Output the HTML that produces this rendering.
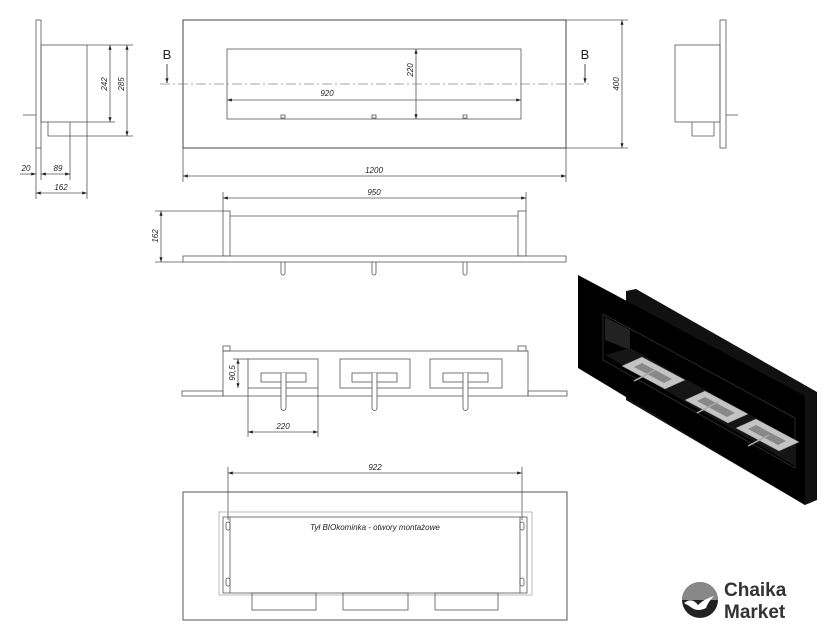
<!DOCTYPE html>
<html><head><meta charset="utf-8"><style>
html,body{margin:0;padding:0;background:#fff}
svg{display:block}
text{font-family:"Liberation Sans",sans-serif;fill:#222}
.d{font-size:8px;font-style:italic}
</style></head><body>
<svg width="838" height="640" viewBox="0 0 838 640" xmlns="http://www.w3.org/2000/svg">
<defs><marker id="a" viewBox="0 0 6 4" refX="6" refY="2" markerWidth="6" markerHeight="4" orient="auto-start-reverse"><path d="M0,0L6,2L0,4z" fill="#222"/></marker></defs>
<g fill="none" stroke="#555" stroke-width="0.8">
<rect x="183" y="20" width="383" height="128" stroke-width="1.1"/>
<rect x="227" y="49" width="294" height="70"/>
<line x1="160" y1="84" x2="592" y2="84" stroke="#888" stroke-dasharray="10,3,2,3"/>
<line x1="227" y1="100" x2="521" y2="100" marker-start="url(#a)" marker-end="url(#a)"/>
<line x1="416" y1="49" x2="416" y2="119" marker-start="url(#a)" marker-end="url(#a)"/>
<rect x="281" y="115" width="4" height="3"/><rect x="372" y="115" width="4" height="3"/><rect x="463" y="115" width="4" height="3"/>
<line x1="183" y1="148" x2="183" y2="182"/><line x1="566" y1="148" x2="566" y2="182"/>
<line x1="183" y1="176" x2="566" y2="176" marker-start="url(#a)" marker-end="url(#a)"/>
<line x1="566" y1="20" x2="628" y2="20"/><line x1="566" y1="148" x2="628" y2="148"/>
<line x1="622" y1="20" x2="622" y2="148" marker-start="url(#a)" marker-end="url(#a)"/>
<line x1="167" y1="64" x2="167" y2="83" stroke="#222" marker-end="url(#a)"/>
<line x1="585" y1="64" x2="585" y2="83" stroke="#222" marker-end="url(#a)"/>
<rect x="36" y="20" width="5" height="128"/>
<rect x="41" y="45" width="46" height="77"/>
<polyline points="48,122 48,136 70,136 70,122"/>
<line x1="23" y1="115" x2="36" y2="115"/>
<line x1="87" y1="45" x2="133" y2="45"/><line x1="87" y1="122" x2="115" y2="122"/><line x1="70" y1="136" x2="133" y2="136"/>
<line x1="110" y1="45" x2="110" y2="122" marker-start="url(#a)" marker-end="url(#a)"/>
<line x1="127" y1="45" x2="127" y2="136" marker-start="url(#a)" marker-end="url(#a)"/>
<line x1="36" y1="148" x2="36" y2="199"/><line x1="41" y1="148" x2="41" y2="180"/><line x1="70" y1="136" x2="70" y2="180"/><line x1="87" y1="122" x2="87" y2="199"/>
<line x1="20" y1="174" x2="36" y2="174" marker-end="url(#a)"/>
<line x1="41" y1="174" x2="70" y2="174" marker-start="url(#a)" marker-end="url(#a)"/>
<line x1="36" y1="193" x2="87" y2="193" marker-start="url(#a)" marker-end="url(#a)"/>
<rect x="675" y="45" width="45" height="77"/>
<rect x="720" y="20" width="6" height="128"/>
<polyline points="692,122 692,136 714,136 714,122"/>
<line x1="726" y1="115" x2="738" y2="115"/>
<line x1="223" y1="192" x2="223" y2="211"/><line x1="526" y1="192" x2="526" y2="211"/>
<line x1="223" y1="198" x2="526" y2="198" marker-start="url(#a)" marker-end="url(#a)"/>
<rect x="183" y="256" width="383" height="6"/>
<rect x="223" y="211" width="7" height="45"/><rect x="518" y="211" width="8" height="45"/>
<line x1="230" y1="216" x2="518" y2="216"/>
<line x1="155" y1="211" x2="223" y2="211"/><line x1="155" y1="262" x2="183" y2="262"/>
<line x1="161" y1="211" x2="161" y2="262" marker-start="url(#a)" marker-end="url(#a)"/>
<path d="M281,262v11a2,2 0 0 0 4,0v-11M372,262v11a2,2 0 0 0 4,0v-11M463,262v11a2,2 0 0 0 4,0v-11"/>
<rect x="223" y="346" width="7" height="5"/><rect x="518" y="346" width="8" height="5"/>
<rect x="223" y="351" width="305" height="45"/>
<rect x="182" y="391" width="41" height="5"/><rect x="528" y="391" width="39" height="5"/>
<rect x="248" y="359" width="70" height="29"/><rect x="340" y="359" width="70" height="29"/><rect x="430" y="359" width="72" height="29"/>
<rect x="261" y="373" width="45" height="9"/><rect x="352" y="373" width="45" height="9"/><rect x="443" y="373" width="45" height="9"/>
<path d="M281,373v35a2,2 0 0 0 5,0v-35M372,373v35a2,2 0 0 0 5,0v-35M463,373v35a2,2 0 0 0 5,0v-35" fill="#fff"/>
<line x1="238" y1="359" x2="238" y2="388" marker-start="url(#a)" marker-end="url(#a)"/>
<line x1="233" y1="359" x2="248" y2="359"/>
<line x1="248" y1="388" x2="248" y2="437"/><line x1="318" y1="388" x2="318" y2="437"/>
<line x1="248" y1="432" x2="318" y2="432" marker-start="url(#a)" marker-end="url(#a)"/>
<line x1="228" y1="467" x2="228" y2="520"/><line x1="522" y1="467" x2="522" y2="520"/>
<line x1="228" y1="473" x2="522" y2="473" marker-start="url(#a)" marker-end="url(#a)"/>
<rect x="183" y="492" width="384" height="128" stroke-width="1"/>
<rect x="219" y="512" width="313" height="83" stroke="#aaa"/>
<rect x="223" y="517" width="304" height="76"/>
<line x1="230" y1="517" x2="230" y2="593"/><line x1="520" y1="517" x2="520" y2="593"/>
<rect x="226" y="522" width="4" height="8" rx="2"/><rect x="520" y="522" width="4" height="8" rx="2"/>
<rect x="226" y="578" width="4" height="8" rx="2"/><rect x="520" y="578" width="4" height="8" rx="2"/>
<rect x="252" y="593" width="64" height="17"/><rect x="343" y="593" width="65" height="17"/><rect x="435" y="593" width="63" height="17"/>
</g>
<g>
<text x="167" y="59" font-size="13" text-anchor="middle">B</text>
<text x="585" y="59" font-size="13" text-anchor="middle">B</text>
<text class="d" x="327" y="96" text-anchor="middle">920</text>
<text class="d" transform="translate(413,70) rotate(-90)" text-anchor="middle">220</text>
<text class="d" x="374" y="173" text-anchor="middle">1200</text>
<text class="d" transform="translate(619,84) rotate(-90)" text-anchor="middle">400</text>
<text class="d" transform="translate(107,84) rotate(-90)" text-anchor="middle">242</text>
<text class="d" transform="translate(124,84) rotate(-90)" text-anchor="middle">285</text>
<text class="d" x="26" y="171" text-anchor="middle">20</text>
<text class="d" x="58" y="171" text-anchor="middle">89</text>
<text class="d" x="61" y="190" text-anchor="middle">162</text>
<text class="d" x="374" y="195" text-anchor="middle">950</text>
<text class="d" transform="translate(158,236) rotate(-90)" text-anchor="middle">162</text>
<text class="d" transform="translate(235,373) rotate(-90)" text-anchor="middle">90,5</text>
<text class="d" x="283" y="429" text-anchor="middle">220</text>
<text class="d" x="375" y="470" text-anchor="middle">922</text>
<text class="d" x="375" y="530" text-anchor="middle">Tył BIOkominka - otwory montażowe</text>
</g>
<polygon points="626,291 636,289 817,392 817,500 805,505 626,400" fill="#111"/>
<polygon points="578,275 805,396 805,505 578,368" fill="#000"/>
<polygon points="603,314 795,418 795,468 603,360" fill="#000" stroke="#333" stroke-width="0.8"/>
<polygon points="605,317 630,330 630,350 605,340" fill="#222"/>
<polygon points="605,355 630,348 795,440 795,466" fill="#151515"/>
<g fill="#c4c4c4" stroke="#888" stroke-width="0.5">
<polygon points="622,366 642,357 685,380 665,389"/>
<polygon points="685,400 705,391 748,414 728,423"/>
<polygon points="736,428 756,419 799,442 779,451"/>
</g>
<g fill="#888"><polygon points="634,367 642,363 672,379 664,383"/><polygon points="697,401 705,397 735,413 727,417"/><polygon points="748,429 756,425 786,441 778,445"/></g>
<g stroke="#aaa" stroke-width="1.5">
<line x1="634" y1="381" x2="655" y2="370"/><line x1="697" y1="413" x2="718" y2="402"/><line x1="748" y1="446" x2="769" y2="435"/>
</g>
<circle cx="700" cy="600" r="18" fill="#222"/>
<path d="M682,600a18,18 0 0 1 36,0z" fill="#888"/>
<path d="M684,603q8,-6 14,2q6,-6 16,-9q-6,6 -8,12q-8,4 -14,0q-4,-3 -8,-5z" fill="#fff"/>
<text x="724" y="596" font-size="19" font-weight="bold" style="fill:#333">Chaika</text>
<text x="724" y="618" font-size="19" font-weight="bold" style="fill:#333">Market</text>
</svg>
</body></html>
